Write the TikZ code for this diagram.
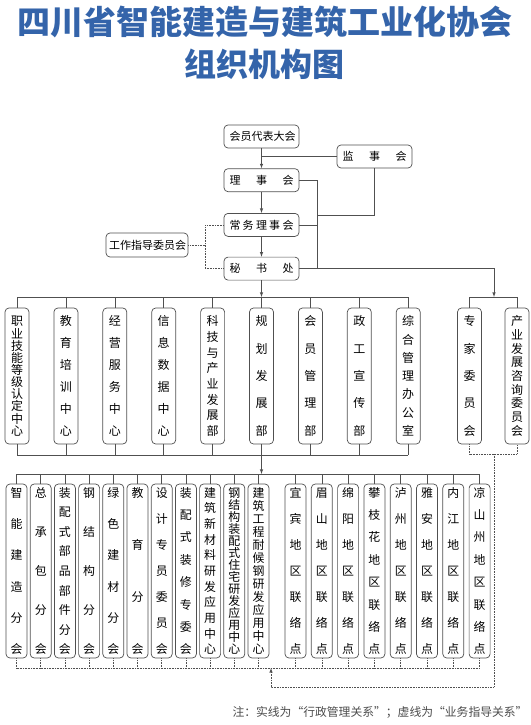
\documentclass[tikz,border=0pt]{standalone}
\usepackage{fontspec}
\setmainfont{Noto Sans CJK SC}
\usepackage{tikz}
\usetikzlibrary{arrows,positioning}
\definecolor{titleblue}{RGB}{52,100,170}
\definecolor{linegray}{RGB}{80,80,80}

% vertical and spread text
\newcommand\vstack[2]{\vbox to #1{\offinterlineskip\expandafter\vfirst#2\relax}}
\def\vfirst#1{\vcbox{#1}\vnext}
\def\vnext#1{\ifx\relax#1\else\vfill\vcbox{#1}\expandafter\vnext\fi}
\def\vcbox#1{\hbox to 1em{\hss\vrule height .88em depth .12em width 0pt\smash{#1}\hss}}
\newcommand\hstack[2]{\hbox to #1{\hfirst#2\relax}}
\def\hfirst#1{#1\hnext}
\def\hnext#1{\ifx\relax#1\else\hfill#1\expandafter\hnext\fi}
\newcommand\fw[1]{\makebox[1em]{#1}}

\tikzset{
  basic/.style  = {draw=linegray, line width=0.7pt, rounded corners=4pt, inner sep=0pt, fill=white},
  office/.style = {basic, minimum width=75pt, minimum height=23pt, font=\fontsize{11}{11}\selectfont},
  dept/.style   = {basic, minimum width=24pt, minimum height=136pt, font=\fontsize{12}{12}\selectfont},
  branch/.style = {basic, minimum width=21pt, minimum height=174pt, font=\fontsize{11.9}{11.9}\selectfont},
  headline/.style = {font=\fontsize{33}{33}\selectfont\bfseries, text=titleblue},
  remark/.style = {font=\fontsize{11.8}{11.8}\selectfont, text=black!70},
  link/.style     = {draw=linegray, line width=0.6pt},
  dot link/.style = {draw=linegray, line width=0.6pt, densely dotted}
}

\begin{document}
\begin{tikzpicture}[x=1pt, y=-1pt, >=latex]
\useasboundingbox (0,0) rectangle (530,725);

% title
\node[headline] (t1) at (265,22) {四川省智能建造与建筑工业化协会};
\node[headline, font=\fontsize{32}{32}\selectfont\bfseries] (t2) at (264,64) {组织机构图};

% top chain, relatively positioned
\node[office] (dahui) at (261.5,136.5) {\hstack{64pt}{会员代表大会}};
\node[office, below=20pt of dahui] (lishi) {\hstack{64pt}{理事会}};
\node[office, below=21pt of lishi] (changwu) {\hstack{64pt}{常务理事会}};
\node[office, below=20pt of changwu] (mishu) {\hstack{64pt}{秘书处}};
\node[office] (jianshi) at (374.5,156.5) {\hstack{64pt}{监事会}};
\node[office, minimum width=82pt, minimum height=24pt] (zhidao) at (147,245) {\hstack{76pt}{工作指导委员会}};

% departments and committees
\foreach \t [count=\i] in {职业技能等级认定中心,教育培训中心,经营服务中心,信息数据中心,科技与产业发展部,规划发展部,会员管理部,政工宣传部,综合管理办公室}
  \node[dept] (d\i) at ({17+48.9*(\i-1)},376) {\vstack{120pt}{\t}};
\node[dept] (w1) at (469.5,376) {\vstack{120pt}{专家委员会}};
\node[dept] (w2) at (517,376) {\vstack{120pt}{产业发展咨询委员会}};

% branches and liaison points
\foreach \t [count=\i] in {智能建造分会,总承包分会,装配式部品部件分会,钢结构分会,绿色建材分会,教育分会,设计专员委员会,装配式装修专委会,建筑新材料研发应用中心,钢结构装配式住宅研发应用中心,建筑工程耐候钢研发应用中心}
  \node[branch] (f\i) at ({16.5+24.2*(\i-1)},571) {\vstack{167pt}{\t}};
\foreach \t [count=\i from 12] in {宜宾地区联络点,眉山地区联络点,绵阳地区联络点,攀枝花地区联络点,泸州地区联络点,雅安地区联络点,内江地区联络点,凉山州地区联络点}
  \node[branch] (f\i) at ({295.5+26.3*(\i-12)},571) {\vstack{167pt}{\t}};

\node[remark] (note) at (380,712) {注：实线为\fw{“}行政管理关系\fw{”}；虚线为\fw{“}业务指导关系\fw{”}};

% bus coordinates
\coordinate (dtop) at (0,297);
\coordinate (dbot) at (0,455);
\coordinate (ftop) at (0,474);
\coordinate (fbot) at (0,668);
\coordinate (wtop) at (494,297);
\coordinate (wbot) at (494,454);
\coordinate (jx) at (317,215);
\coordinate (gx) at (205,245);
\coordinate (back) at (271,687);

% top chain
\draw[link,->] (dahui) -- (lishi);
\draw[link,->] (lishi) -- (changwu);
\draw[link,->] (changwu) -- (mishu);
\draw[link,->] (mishu) -- (mishu.south |- dtop);
\draw[link] (dahui.south |- jianshi.west) -- (jianshi.west);
\draw[link] (jianshi.south) |- (jx);
\draw[link] (lishi.east) -| (jx |- mishu.east) -- (mishu.east);
\draw[link] (changwu.east) -- (changwu.east -| jx);
\draw[link,->] (mishu.east) -| (wtop);
\draw[dot link] (zhidao.east) -- (gx);
\draw[dot link] (changwu.west) -| (gx |- mishu.west) -- (mishu.west);

% departments
\draw[link] (d1.north |- dtop) -- (d9.north |- dtop);
\draw[link] (d1.south |- dbot) -- (d9.south |- dbot);
\foreach \i in {1,...,9}
  \draw[link] (d\i.north) -- (d\i.north |- dtop);
\foreach \i in {1,...,9}
  \draw[link] (d\i.south) -- (d\i.south |- dbot);
\draw[link,->] (d6.south |- dbot) -- (d6.south |- ftop);

% committees
\draw[link] (w1.north) -- (w1.north |- wtop) -- (w2.north |- wtop) -- (w2.north);
\draw[dot link] (w1.south) -- (w1.south |- wbot) -- (w2.south |- wbot) -- (w2.south);
\draw[dot link,->] (wbot) |- (back) -- (back |- fbot);

% branches
\draw[link] (f1.north |- ftop) -- (f19.north |- ftop);
\draw[dot link] (f1.south |- fbot) -- (f19.south |- fbot);
\foreach \i in {1,...,19}
  \draw[link] (f\i.north) -- (f\i.north |- ftop);
\foreach \i in {1,...,19}
  \draw[dot link] (f\i.south) -- (f\i.south |- fbot);
\end{tikzpicture}
\end{document}
